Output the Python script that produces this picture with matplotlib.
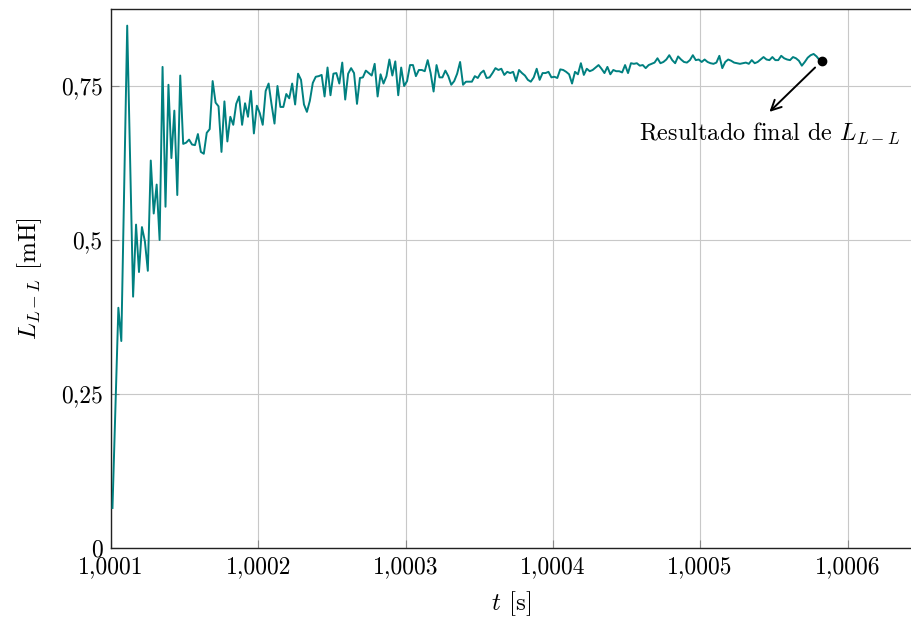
import numpy as np
import matplotlib
matplotlib.use('Agg')
import matplotlib.pyplot as plt
import matplotlib.ticker as ticker

# time axis: uniform simulation step
t_start = 1.000101
t_step = 2e-6

# inductance estimate L_{L-L} [mH]
l_ll = [
    0.065, 0.23, 0.39, 0.336, 0.59, 0.848, 0.63, 0.408, 0.525, 0.448,
    0.521, 0.498, 0.45, 0.629, 0.543, 0.59, 0.50, 0.781, 0.554, 0.752,
    0.633, 0.71, 0.573, 0.767, 0.656, 0.658, 0.663, 0.655, 0.654, 0.672,
    0.643, 0.64, 0.674, 0.68, 0.758, 0.723, 0.717, 0.643, 0.725, 0.66,
    0.70, 0.687, 0.721, 0.733, 0.687, 0.722, 0.70, 0.742, 0.673, 0.718,
    0.706, 0.687, 0.742, 0.754, 0.72, 0.689, 0.75, 0.716, 0.716, 0.737,
    0.73, 0.754, 0.72, 0.77, 0.76, 0.72, 0.708, 0.726, 0.755, 0.765,
    0.766, 0.768, 0.733, 0.78, 0.735, 0.77, 0.771, 0.754, 0.788, 0.728,
    0.77, 0.779, 0.771, 0.721, 0.763, 0.764, 0.775, 0.771, 0.767, 0.786,
    0.733, 0.769, 0.754, 0.766, 0.793, 0.767, 0.79, 0.735, 0.78, 0.75,
    0.758, 0.784, 0.784, 0.766, 0.776, 0.776, 0.774, 0.792, 0.771, 0.741,
    0.784, 0.764, 0.764, 0.775, 0.766, 0.752, 0.758, 0.77, 0.789, 0.752,
    0.757, 0.757, 0.757, 0.766, 0.763, 0.771, 0.775, 0.763, 0.764, 0.771,
    0.779, 0.776, 0.778, 0.768, 0.773, 0.771, 0.773, 0.758, 0.776, 0.771,
    0.767, 0.76, 0.757, 0.764, 0.778, 0.76, 0.771, 0.771, 0.773, 0.764,
    0.765, 0.763, 0.777, 0.776, 0.773, 0.769, 0.754, 0.773, 0.769, 0.787,
    0.768, 0.778, 0.774, 0.776, 0.780, 0.784, 0.778, 0.771, 0.781, 0.769,
    0.776, 0.774, 0.774, 0.772, 0.784, 0.771, 0.787, 0.786, 0.787, 0.783,
    0.784, 0.779, 0.784, 0.786, 0.788, 0.795, 0.787, 0.789, 0.793, 0.800,
    0.792, 0.787, 0.798, 0.793, 0.789, 0.788, 0.792, 0.800, 0.792, 0.793,
    0.789, 0.793, 0.789, 0.787, 0.786, 0.788, 0.799, 0.779, 0.789, 0.793,
    0.791, 0.788, 0.787, 0.786, 0.787, 0.788, 0.786, 0.792, 0.787, 0.789,
    0.793, 0.797, 0.793, 0.792, 0.797, 0.792, 0.792, 0.799, 0.795, 0.793,
    0.792, 0.797, 0.795, 0.791, 0.783, 0.789, 0.796, 0.800, 0.802, 0.798,
    0.792, 0.791,
]

x_ticks = [1.0001, 1.0002, 1.0003, 1.0004, 1.0005, 1.0006]
x_tick_labels = ['1,0001', '1,0002', '1,0003', '1,0004', '1,0005', '1,0006']
y_ticks = [0, 0.25, 0.5, 0.75]
y_tick_labels = ['0', '0,25', '0,5', '0,75']

plt.rcParams['font.family'] = 'serif'
plt.rcParams['font.serif'] = ['cmr10', 'DejaVu Serif']
plt.rcParams['mathtext.fontset'] = 'cm'
plt.rcParams['axes.unicode_minus'] = False

t = t_start + t_step * np.arange(len(l_ll))

fig = plt.figure(figsize=(9.12, 6.26), dpi=100)
fig.patch.set_facecolor('white')
ax = fig.add_axes([111 / 912, 1 - 548 / 626, 1 - 111 / 912, (548 - 9) / 626])

ax.plot(t, l_ll, color='#008080', lw=1.4, zorder=3)
ax.plot(t[-1], l_ll[-1], 'o', color='black', ms=6, zorder=4)

# arrow + label pointing at the final value
ax.annotate('', xy=(1.000547, 0.708), xytext=(1.000578, 0.780),
            arrowprops=dict(arrowstyle='->', color='black', lw=1.4,
                            shrinkA=0, shrinkB=0, mutation_scale=18))
ax.text(1.000547, 0.672, 'Resultado final de $L_{L-L}$', ha='center', va='center',
        fontsize=17.5)

ax.set_xlim(1.0001, 1.0001 + (912 - 111) / 1473000)
ax.set_ylim(0, (548 - 9) / 616)
ax.set_xticks(x_ticks)
ax.xaxis.set_major_formatter(ticker.FixedFormatter(x_tick_labels))
ax.set_yticks(y_ticks)
ax.yaxis.set_major_formatter(ticker.FixedFormatter(y_tick_labels))
ax.grid(True, color='#c8c8c8', lw=0.8)
ax.set_axisbelow(True)
ax.tick_params(direction='in', length=6, width=0.8, color='#888888',
               labelsize=17, pad=6)
ax.spines['right'].set_visible(False)
for s in ['left', 'bottom', 'top']:
    ax.spines[s].set_color('#222222')
    ax.spines[s].set_linewidth(1.0)

ax.set_xlabel('$t$ [s]', fontsize=18, labelpad=8)
ax.set_ylabel('$L_{L-L}$ [mH]', fontsize=18, labelpad=12)

fig.savefig('out.png', dpi=100)
